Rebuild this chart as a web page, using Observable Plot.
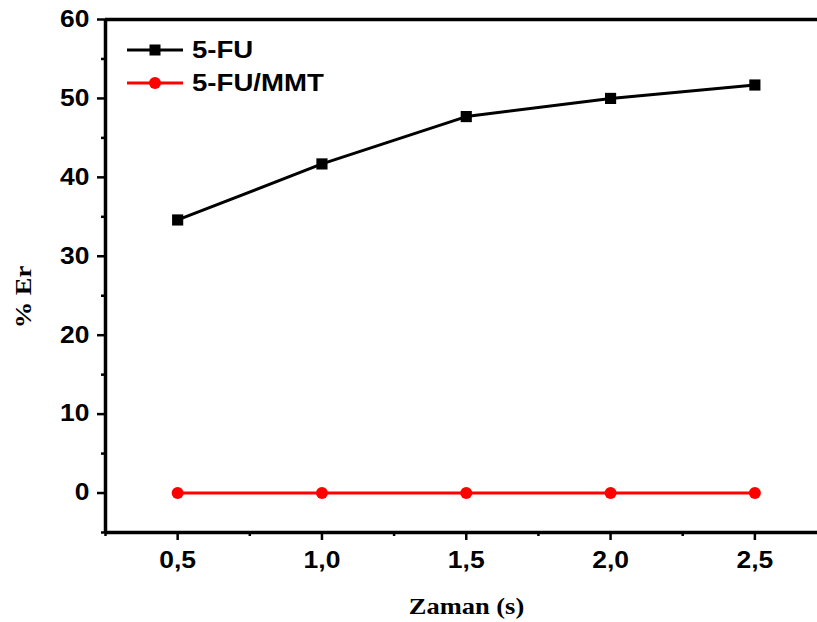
<!DOCTYPE html>
<html>
<head>
<meta charset="utf-8">
<script src="https://cdn.jsdelivr.net/npm/d3@7"></script>
<script src="https://cdn.jsdelivr.net/npm/@observablehq/plot@0.6"></script>
<style>
  html, body { margin: 0; padding: 0; background: #fff; overflow: hidden; }
  #wrap { position: relative; width: 817px; height: 622px; }
  #legend { position: absolute; left: 127px; top: 33px; }
</style>
</head>
<body>
<div id="wrap"></div>
<script>
// Time points (s) and % Er for each formulation
const times = [0.5, 1.0, 1.5, 2.0, 2.5];
const fu = [34.6, 41.7, 47.7, 50.0, 51.7];
const fuMmt = [0, 0, 0, 0, 0];
const seriesNames = ["5-FU", "5-FU/MMT"];
const seriesColors = ["#000000", "#ff0000"];

const yMajor = [0, 10, 20, 30, 40, 50, 60];
const yMinor = [-5, 5, 15, 25, 35, 45, 55];
const xMajor = [0.5, 1.0, 1.5, 2.0, 2.5];
const xMinor = [0.25, 0.75, 1.25, 1.75, 2.25];
const xTitle = "Zaman (s)";
const yTitle = "% Er";

const rowsFu = times.map((t, i) => ({t, v: fu[i]}));
const rowsMmt = times.map((t, i) => ({t, v: fuMmt[i]}));

const sans = "'Liberation Sans', Arial, sans-serif";
const serif = "'Liberation Serif', 'Times New Roman', serif";
const fmt = d => d.toFixed(1).replace(".", ",");

const chart = Plot.plot({
  width: 817,
  height: 622,
  marginLeft: 105,
  marginRight: 0,
  marginTop: 19,
  marginBottom: 90,
  style: {fontFamily: sans, fontWeight: "bold", fontSize: "23px", color: "#000", background: "#fff"},
  x: {domain: [0.25, 2.717]},
  y: {domain: [-5, 60]},
  marks: [
    Plot.axisY(yMajor, {tickSize: 8, tickPadding: 8, strokeWidth: 2.5, fontSize: 23, fontWeight: "bold", label: null}),
    Plot.axisY(yMinor, {tickSize: 4, strokeWidth: 2.5, text: null, label: null}),
    Plot.axisX(xMajor, {tickSize: 8, tickPadding: 11, strokeWidth: 2.5, fontSize: 23, fontWeight: "bold", tickFormat: fmt, label: null}),
    Plot.axisX(xMinor, {tickSize: 4, strokeWidth: 2.5, text: null, label: null}),
    Plot.ruleX([0.25], {strokeWidth: 3.5}),
    Plot.ruleY([-5], {strokeWidth: 3.5}),
    Plot.ruleY([60], {strokeWidth: 3.5}),
    Plot.line(rowsFu, {x: "t", y: "v", stroke: seriesColors[0], strokeWidth: 3}),
    Plot.dot(rowsFu, {x: "t", y: "v", symbol: "square", r: 6.3, fill: seriesColors[0], stroke: "none"}),
    Plot.line(rowsMmt, {x: "t", y: "v", stroke: seriesColors[1], strokeWidth: 3}),
    Plot.dot(rowsMmt, {x: "t", y: "v", symbol: "circle", r: 6, fill: seriesColors[1], stroke: "none"}),
    Plot.text([xTitle], {frameAnchor: "bottom", text: d => d, dx: 5, dy: 74, lineAnchor: "middle",
      textAnchor: "middle", fontFamily: serif, fontWeight: "bold", fontSize: 23}),
    Plot.text([yTitle], {frameAnchor: "left", text: d => d, dx: -82, dy: 21, rotate: -90,
      textAnchor: "middle", lineAnchor: "middle", fontFamily: serif, fontWeight: "bold", fontSize: 23})
  ]
});

const wrap = document.getElementById("wrap");
wrap.appendChild(chart);

// Legend: line with marker, then series name
const ns = "http://www.w3.org/2000/svg";
const leg = document.createElementNS(ns, "svg");
leg.id = "legend";
leg.setAttribute("width", 260);
leg.setAttribute("height", 70);
seriesNames.forEach((name, i) => {
  const cy = 17 + i * 33;
  const g = document.createElementNS(ns, "g");
  const marker = i === 0
    ? `<rect x="22.5" y="${cy - 5.5}" width="11" height="11" fill="${seriesColors[i]}"/>`
    : `<circle cx="28" cy="${cy}" r="6" fill="${seriesColors[i]}"/>`;
  g.innerHTML = `<line x1="0" x2="56" y1="${cy}" y2="${cy}" stroke="${seriesColors[i]}" stroke-width="3"/>${marker}` +
    `<text x="65" y="${cy}" dy="0.36em" font-family="${sans.replace(/'/g, "")}" font-weight="bold" font-size="23">${name}</text>`;
  leg.appendChild(g);
});
wrap.appendChild(leg);

// Widen the lettering horizontally (wide bold face)
function stretch(el, k) {
  const len = el.getComputedTextLength();
  if (len > 0) {
    el.setAttribute("textLength", (len * k).toFixed(1));
    el.setAttribute("lengthAdjust", "spacingAndGlyphs");
  }
}
chart.querySelectorAll("text").forEach(el => {
  const fam = getComputedStyle(el).fontFamily;
  stretch(el, /Serif/i.test(fam) ? 1.15 : 1.2);
});
leg.querySelectorAll("text").forEach(el => stretch(el, 1.2));
</script>
</body>
</html>
